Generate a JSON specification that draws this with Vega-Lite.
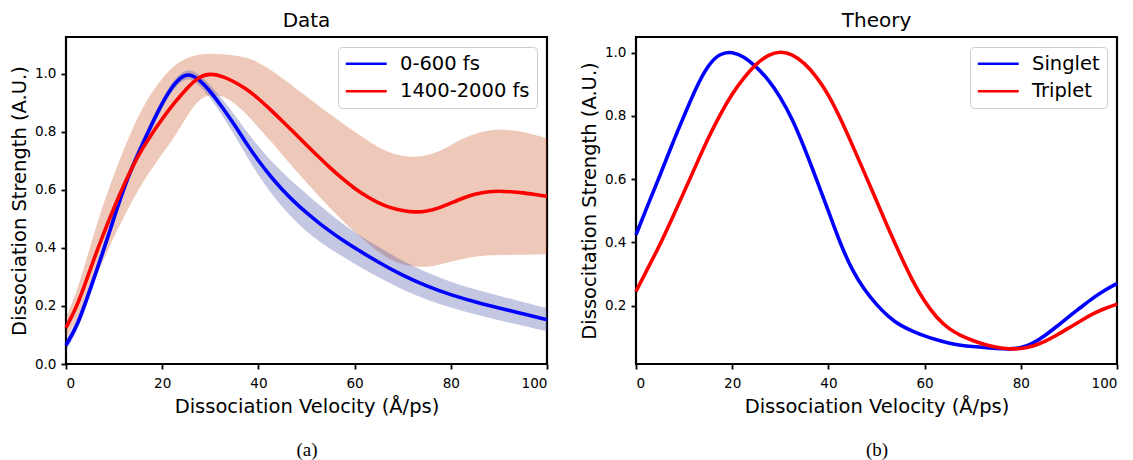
{
  "$schema": "https://vega.github.io/schema/vega-lite/v6.json",
  "padding": {"left": 8, "top": 9, "right": 5, "bottom": 0},
  "bounds": "flush",
  "spacing": 89,
  "config": {
    "font": "DejaVu Sans",
    "view": {"stroke": "black", "strokeWidth": 2.2},
    "axis": {"grid": false, "domain": false, "tickColor": "black", "tickWidth": 1.8, "tickSize": 5, "labelColor": "black", "labelFont": "DejaVu Sans", "labelFontSize": 13.6, "titleFont": "DejaVu Sans", "titleFontSize": 19.5, "titleFontWeight": "normal", "titleColor": "black"},
    "axisX": {"labelPadding": 7, "titlePadding": 7.5},
    "axisY": {"labelPadding": 5, "titlePadding": 5},
    "title": {"font": "DejaVu Sans", "fontSize": 20, "fontWeight": "normal", "color": "black", "offset": 6}
  },
  "datasets": {
    "exp": [
      {"v": 0, "series": "0-600 fs", "s": 0.065, "lo": 0.045, "hi": 0.085},
      {"v": 2.5, "series": "0-600 fs", "s": 0.135, "lo": 0.115, "hi": 0.155},
      {"v": 5, "series": "0-600 fs", "s": 0.257, "lo": 0.237, "hi": 0.277},
      {"v": 7.5, "series": "0-600 fs", "s": 0.376, "lo": 0.356, "hi": 0.396},
      {"v": 10, "series": "0-600 fs", "s": 0.505, "lo": 0.485, "hi": 0.525},
      {"v": 12.5, "series": "0-600 fs", "s": 0.63, "lo": 0.61, "hi": 0.65},
      {"v": 15, "series": "0-600 fs", "s": 0.725, "lo": 0.705, "hi": 0.745},
      {"v": 17.5, "series": "0-600 fs", "s": 0.815, "lo": 0.797, "hi": 0.833},
      {"v": 20, "series": "0-600 fs", "s": 0.9, "lo": 0.884, "hi": 0.916},
      {"v": 22.5, "series": "0-600 fs", "s": 0.968, "lo": 0.953, "hi": 0.983},
      {"v": 25, "series": "0-600 fs", "s": 1.005, "lo": 0.99, "hi": 1.02},
      {"v": 27.5, "series": "0-600 fs", "s": 0.985, "lo": 0.967, "hi": 1.003},
      {"v": 30, "series": "0-600 fs", "s": 0.94, "lo": 0.918, "hi": 0.962},
      {"v": 32.5, "series": "0-600 fs", "s": 0.885, "lo": 0.857, "hi": 0.913},
      {"v": 35, "series": "0-600 fs", "s": 0.825, "lo": 0.79, "hi": 0.86},
      {"v": 37.5, "series": "0-600 fs", "s": 0.76, "lo": 0.718, "hi": 0.802},
      {"v": 40, "series": "0-600 fs", "s": 0.7, "lo": 0.65, "hi": 0.75},
      {"v": 42.5, "series": "0-600 fs", "s": 0.647, "lo": 0.592, "hi": 0.702},
      {"v": 45, "series": "0-600 fs", "s": 0.6, "lo": 0.54, "hi": 0.66},
      {"v": 47.5, "series": "0-600 fs", "s": 0.558, "lo": 0.495, "hi": 0.621},
      {"v": 50, "series": "0-600 fs", "s": 0.521, "lo": 0.456, "hi": 0.586},
      {"v": 52.5, "series": "0-600 fs", "s": 0.487, "lo": 0.424, "hi": 0.55},
      {"v": 55, "series": "0-600 fs", "s": 0.456, "lo": 0.396, "hi": 0.516},
      {"v": 57.5, "series": "0-600 fs", "s": 0.427, "lo": 0.37, "hi": 0.484},
      {"v": 60, "series": "0-600 fs", "s": 0.4, "lo": 0.345, "hi": 0.455},
      {"v": 65, "series": "0-600 fs", "s": 0.35, "lo": 0.298, "hi": 0.402},
      {"v": 70, "series": "0-600 fs", "s": 0.305, "lo": 0.255, "hi": 0.355},
      {"v": 75, "series": "0-600 fs", "s": 0.268, "lo": 0.221, "hi": 0.315},
      {"v": 80, "series": "0-600 fs", "s": 0.238, "lo": 0.194, "hi": 0.282},
      {"v": 85, "series": "0-600 fs", "s": 0.214, "lo": 0.171, "hi": 0.257},
      {"v": 90, "series": "0-600 fs", "s": 0.193, "lo": 0.151, "hi": 0.235},
      {"v": 95, "series": "0-600 fs", "s": 0.173, "lo": 0.132, "hi": 0.214},
      {"v": 100, "series": "0-600 fs", "s": 0.153, "lo": 0.113, "hi": 0.193},
      {"v": 0, "series": "1400-2000 fs", "s": 0.125, "lo": 0.09, "hi": 0.16},
      {"v": 2.5, "series": "1400-2000 fs", "s": 0.205, "lo": 0.155, "hi": 0.26},
      {"v": 5, "series": "1400-2000 fs", "s": 0.325, "lo": 0.255, "hi": 0.405},
      {"v": 7.5, "series": "1400-2000 fs", "s": 0.437, "lo": 0.347, "hi": 0.54},
      {"v": 10, "series": "1400-2000 fs", "s": 0.54, "lo": 0.44, "hi": 0.655},
      {"v": 12.5, "series": "1400-2000 fs", "s": 0.635, "lo": 0.522, "hi": 0.76},
      {"v": 15, "series": "1400-2000 fs", "s": 0.72, "lo": 0.6, "hi": 0.855},
      {"v": 17.5, "series": "1400-2000 fs", "s": 0.785, "lo": 0.665, "hi": 0.93},
      {"v": 20, "series": "1400-2000 fs", "s": 0.845, "lo": 0.725, "hi": 0.985},
      {"v": 22.5, "series": "1400-2000 fs", "s": 0.9, "lo": 0.78, "hi": 1.03},
      {"v": 25, "series": "1400-2000 fs", "s": 0.948, "lo": 0.85, "hi": 1.055},
      {"v": 27.5, "series": "1400-2000 fs", "s": 0.99, "lo": 0.912, "hi": 1.067},
      {"v": 30, "series": "1400-2000 fs", "s": 1.002, "lo": 0.93, "hi": 1.07},
      {"v": 32.5, "series": "1400-2000 fs", "s": 0.992, "lo": 0.925, "hi": 1.068},
      {"v": 35, "series": "1400-2000 fs", "s": 0.973, "lo": 0.9, "hi": 1.063},
      {"v": 37.5, "series": "1400-2000 fs", "s": 0.948, "lo": 0.862, "hi": 1.057},
      {"v": 40, "series": "1400-2000 fs", "s": 0.915, "lo": 0.815, "hi": 1.04},
      {"v": 42.5, "series": "1400-2000 fs", "s": 0.877, "lo": 0.77, "hi": 1.015},
      {"v": 45, "series": "1400-2000 fs", "s": 0.837, "lo": 0.72, "hi": 0.985},
      {"v": 47.5, "series": "1400-2000 fs", "s": 0.796, "lo": 0.672, "hi": 0.953},
      {"v": 50, "series": "1400-2000 fs", "s": 0.755, "lo": 0.625, "hi": 0.922},
      {"v": 52.5, "series": "1400-2000 fs", "s": 0.714, "lo": 0.58, "hi": 0.89},
      {"v": 55, "series": "1400-2000 fs", "s": 0.675, "lo": 0.535, "hi": 0.86},
      {"v": 57.5, "series": "1400-2000 fs", "s": 0.638, "lo": 0.495, "hi": 0.83},
      {"v": 60, "series": "1400-2000 fs", "s": 0.605, "lo": 0.455, "hi": 0.8},
      {"v": 62.5, "series": "1400-2000 fs", "s": 0.577, "lo": 0.42, "hi": 0.773},
      {"v": 65, "series": "1400-2000 fs", "s": 0.554, "lo": 0.385, "hi": 0.745},
      {"v": 67.5, "series": "1400-2000 fs", "s": 0.538, "lo": 0.358, "hi": 0.727},
      {"v": 70, "series": "1400-2000 fs", "s": 0.528, "lo": 0.342, "hi": 0.717},
      {"v": 72.5, "series": "1400-2000 fs", "s": 0.523, "lo": 0.335, "hi": 0.713},
      {"v": 75, "series": "1400-2000 fs", "s": 0.526, "lo": 0.334, "hi": 0.718},
      {"v": 77.5, "series": "1400-2000 fs", "s": 0.537, "lo": 0.342, "hi": 0.732},
      {"v": 80, "series": "1400-2000 fs", "s": 0.554, "lo": 0.352, "hi": 0.754},
      {"v": 82.5, "series": "1400-2000 fs", "s": 0.572, "lo": 0.362, "hi": 0.777},
      {"v": 85, "series": "1400-2000 fs", "s": 0.586, "lo": 0.37, "hi": 0.794},
      {"v": 87.5, "series": "1400-2000 fs", "s": 0.594, "lo": 0.375, "hi": 0.804},
      {"v": 90, "series": "1400-2000 fs", "s": 0.596, "lo": 0.376, "hi": 0.808},
      {"v": 92.5, "series": "1400-2000 fs", "s": 0.594, "lo": 0.376, "hi": 0.806},
      {"v": 95, "series": "1400-2000 fs", "s": 0.59, "lo": 0.376, "hi": 0.8},
      {"v": 97.5, "series": "1400-2000 fs", "s": 0.584, "lo": 0.377, "hi": 0.789},
      {"v": 100, "series": "1400-2000 fs", "s": 0.578, "lo": 0.378, "hi": 0.778}
    ],
    "theory": [
      {"v": 0, "series": "Singlet", "s": 0.424},
      {"v": 2.5, "series": "Singlet", "s": 0.52},
      {"v": 5, "series": "Singlet", "s": 0.612},
      {"v": 7.5, "series": "Singlet", "s": 0.71},
      {"v": 10, "series": "Singlet", "s": 0.8},
      {"v": 12.5, "series": "Singlet", "s": 0.89},
      {"v": 15, "series": "Singlet", "s": 0.962},
      {"v": 17.5, "series": "Singlet", "s": 0.998},
      {"v": 20, "series": "Singlet", "s": 1.003},
      {"v": 22.5, "series": "Singlet", "s": 0.987},
      {"v": 25, "series": "Singlet", "s": 0.955},
      {"v": 27.5, "series": "Singlet", "s": 0.915},
      {"v": 30, "series": "Singlet", "s": 0.86},
      {"v": 32.5, "series": "Singlet", "s": 0.79},
      {"v": 35, "series": "Singlet", "s": 0.7},
      {"v": 37.5, "series": "Singlet", "s": 0.6},
      {"v": 40, "series": "Singlet", "s": 0.5},
      {"v": 42.5, "series": "Singlet", "s": 0.395},
      {"v": 45, "series": "Singlet", "s": 0.31},
      {"v": 47.5, "series": "Singlet", "s": 0.25},
      {"v": 50, "series": "Singlet", "s": 0.203},
      {"v": 52.5, "series": "Singlet", "s": 0.165},
      {"v": 55, "series": "Singlet", "s": 0.137},
      {"v": 57.5, "series": "Singlet", "s": 0.12},
      {"v": 60, "series": "Singlet", "s": 0.104},
      {"v": 62.5, "series": "Singlet", "s": 0.092},
      {"v": 65, "series": "Singlet", "s": 0.082},
      {"v": 67.5, "series": "Singlet", "s": 0.075},
      {"v": 70, "series": "Singlet", "s": 0.071},
      {"v": 72.5, "series": "Singlet", "s": 0.068},
      {"v": 75, "series": "Singlet", "s": 0.065},
      {"v": 77.5, "series": "Singlet", "s": 0.063},
      {"v": 80, "series": "Singlet", "s": 0.066},
      {"v": 82.5, "series": "Singlet", "s": 0.08},
      {"v": 85, "series": "Singlet", "s": 0.105},
      {"v": 87.5, "series": "Singlet", "s": 0.135},
      {"v": 90, "series": "Singlet", "s": 0.166},
      {"v": 92.5, "series": "Singlet", "s": 0.195},
      {"v": 95, "series": "Singlet", "s": 0.225},
      {"v": 97.5, "series": "Singlet", "s": 0.25},
      {"v": 100, "series": "Singlet", "s": 0.27},
      {"v": 0, "series": "Triplet", "s": 0.245},
      {"v": 2.5, "series": "Triplet", "s": 0.32},
      {"v": 5, "series": "Triplet", "s": 0.393},
      {"v": 7.5, "series": "Triplet", "s": 0.475},
      {"v": 10, "series": "Triplet", "s": 0.56},
      {"v": 12.5, "series": "Triplet", "s": 0.645},
      {"v": 15, "series": "Triplet", "s": 0.73},
      {"v": 17.5, "series": "Triplet", "s": 0.805},
      {"v": 20, "series": "Triplet", "s": 0.87},
      {"v": 22.5, "series": "Triplet", "s": 0.922},
      {"v": 25, "series": "Triplet", "s": 0.965},
      {"v": 27.5, "series": "Triplet", "s": 0.993},
      {"v": 30, "series": "Triplet", "s": 1.004},
      {"v": 32.5, "series": "Triplet", "s": 0.995},
      {"v": 35, "series": "Triplet", "s": 0.967},
      {"v": 37.5, "series": "Triplet", "s": 0.925},
      {"v": 40, "series": "Triplet", "s": 0.868},
      {"v": 42.5, "series": "Triplet", "s": 0.792},
      {"v": 45, "series": "Triplet", "s": 0.707},
      {"v": 47.5, "series": "Triplet", "s": 0.62},
      {"v": 50, "series": "Triplet", "s": 0.532},
      {"v": 52.5, "series": "Triplet", "s": 0.442},
      {"v": 55, "series": "Triplet", "s": 0.358},
      {"v": 57.5, "series": "Triplet", "s": 0.278},
      {"v": 60, "series": "Triplet", "s": 0.212},
      {"v": 62.5, "series": "Triplet", "s": 0.162},
      {"v": 65, "series": "Triplet", "s": 0.127},
      {"v": 67.5, "series": "Triplet", "s": 0.105},
      {"v": 70, "series": "Triplet", "s": 0.09},
      {"v": 72.5, "series": "Triplet", "s": 0.077},
      {"v": 75, "series": "Triplet", "s": 0.068},
      {"v": 77.5, "series": "Triplet", "s": 0.063},
      {"v": 80, "series": "Triplet", "s": 0.064},
      {"v": 82.5, "series": "Triplet", "s": 0.072},
      {"v": 85, "series": "Triplet", "s": 0.087},
      {"v": 87.5, "series": "Triplet", "s": 0.107},
      {"v": 90, "series": "Triplet", "s": 0.13},
      {"v": 92.5, "series": "Triplet", "s": 0.153},
      {"v": 95, "series": "Triplet", "s": 0.175},
      {"v": 97.5, "series": "Triplet", "s": 0.192},
      {"v": 100, "series": "Triplet", "s": 0.205}
    ]
  },
  "hconcat": [
    {
      "width": 481,
      "height": 327,
      "title": {"text": "Data"},
      "data": {"name": "exp"},
      "layer": [
        {
          "transform": [{"filter": "datum.series === '1400-2000 fs'"}],
          "mark": {"type": "area", "interpolate": "basis", "fill": "#c64b16", "fillOpacity": 0.3},
          "encoding": {
            "x": {"field": "v", "type": "quantitative", "scale": {"domain": [0, 100], "nice": false, "zero": false},
                  "axis": {"orient": "bottom", "title": "(a)", "labels": false, "ticks": false, "domain": false, "titleFont": "Liberation Serif", "titleFontSize": 19, "titlePadding": 76}},
            "y": {"field": "lo", "type": "quantitative", "scale": {"domain": [0, 1.127], "nice": false, "zero": false},
                  "axis": {"title": "Dissociation Strength (A.U.)", "values": [0, 0.2, 0.4, 0.6, 0.8, 1.0], "format": ".1f"}},
            "y2": {"field": "hi"}
          }
        },
        {
          "transform": [{"filter": "datum.series === '0-600 fs'"}],
          "mark": {"type": "area", "interpolate": "basis", "fill": "#3a449e", "fillOpacity": 0.3},
          "encoding": {
            "x": {"field": "v", "type": "quantitative", "scale": {"domain": [0, 100], "nice": false, "zero": false}, "axis": null},
            "y": {"field": "lo", "type": "quantitative", "scale": {"domain": [0, 1.127], "nice": false, "zero": false},
                  "axis": {"title": "Dissociation Strength (A.U.)", "values": [0, 0.2, 0.4, 0.6, 0.8, 1.0], "format": ".1f"}},
            "y2": {"field": "hi"}
          }
        },
        {
          "mark": {"type": "line", "interpolate": "basis", "strokeWidth": 3.6},
          "encoding": {
            "x": {"field": "v", "type": "quantitative", "scale": {"domain": [0, 100], "nice": false, "zero": false},
                  "axis": {"orient": "bottom", "title": "Dissociation Velocity (Å/ps)", "values": [0, 20, 40, 60, 80, 100], "format": "d"}},
            "y": {"field": "s", "type": "quantitative", "scale": {"domain": [0, 1.127], "nice": false, "zero": false},
                  "axis": {"title": "Dissociation Strength (A.U.)", "values": [0, 0.2, 0.4, 0.6, 0.8, 1.0], "format": ".1f"}},
            "stroke": {"field": "series", "type": "nominal",
                       "scale": {"domain": ["0-600 fs", "1400-2000 fs"], "range": ["#0000ff", "#ff0000"]},
                       "legend": {"title": null, "orient": "top-right", "offset": 10, "symbolType": "M-3.9,0H3.9", "symbolSize": 110, "symbolStrokeWidth": 2.5, "symbolOffset": 11.5, "labelOffset": 24, "labelFontSize": 19.5, "labelFont": "DejaVu Sans", "labelColor": "black", "padding": 7, "rowPadding": 6.5, "strokeColor": "#cccccc", "fillColor": "rgba(255,255,255,0.8)", "cornerRadius": 4}}
          }
        }
      ],
      "resolve": {"axis": {"x": "independent"}}
    },
    {
      "width": 481,
      "height": 327,
      "title": {"text": "Theory"},
      "data": {"name": "theory"},
      "layer": [
        {
          "mark": {"type": "line", "interpolate": "basis", "opacity": 0},
          "encoding": {
            "x": {"field": "v", "type": "quantitative", "scale": {"domain": [0, 100], "nice": false, "zero": false},
                  "axis": {"orient": "bottom", "title": "(b)", "labels": false, "ticks": false, "domain": false, "titleFont": "Liberation Serif", "titleFontSize": 19, "titlePadding": 76}},
            "y": {"field": "s", "type": "quantitative", "scale": {"domain": [0.016, 1.049], "nice": false, "zero": false},
                  "axis": {"title": "Dissocitation Strength (A.U.)", "values": [0.2, 0.4, 0.6, 0.8, 1.0], "format": ".1f"}},
            "detail": {"field": "series"}
          }
        },
        {
          "mark": {"type": "line", "interpolate": "basis", "strokeWidth": 3.6},
          "encoding": {
            "x": {"field": "v", "type": "quantitative", "scale": {"domain": [0, 100], "nice": false, "zero": false},
                  "axis": {"orient": "bottom", "title": "Dissociation Velocity (Å/ps)", "values": [0, 20, 40, 60, 80, 100], "format": "d"}},
            "y": {"field": "s", "type": "quantitative", "scale": {"domain": [0.016, 1.049], "nice": false, "zero": false},
                  "axis": {"title": "Dissocitation Strength (A.U.)", "values": [0.2, 0.4, 0.6, 0.8, 1.0], "format": ".1f"}},
            "stroke": {"field": "series", "type": "nominal",
                       "scale": {"domain": ["Singlet", "Triplet"], "range": ["#0000ff", "#ff0000"]},
                       "legend": {"title": null, "orient": "top-right", "offset": 10, "symbolType": "M-3.9,0H3.9", "symbolSize": 110, "symbolStrokeWidth": 2.5, "symbolOffset": 11.5, "labelOffset": 24, "labelFontSize": 19.5, "labelFont": "DejaVu Sans", "labelColor": "black", "padding": 7, "rowPadding": 6.5, "strokeColor": "#cccccc", "fillColor": "rgba(255,255,255,0.8)", "cornerRadius": 4}}
          }
        }
      ],
      "resolve": {"axis": {"x": "independent"}}
    }
  ],
  "resolve": {"scale": {"x": "independent", "y": "independent", "stroke": "independent"}, "legend": {"stroke": "independent"}}
}
